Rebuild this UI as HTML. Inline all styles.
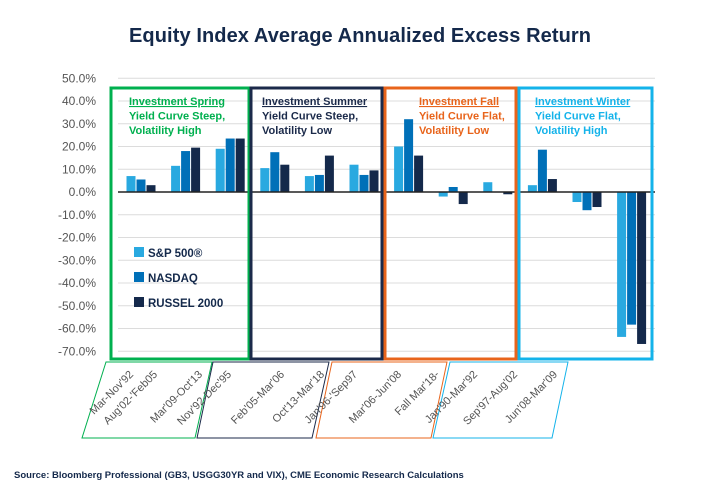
<!DOCTYPE html>
<html><head><meta charset="utf-8"><style>
html,body{margin:0;padding:0;background:#fff;}
svg{display:block;font-family:"Liberation Sans",sans-serif;}
</style></head><body>
<svg id="chart" width="720" height="500" viewBox="0 0 720 500">
<text x="360" y="42" text-anchor="middle" font-size="20" font-weight="600" fill="#14294b" textLength="462">Equity Index Average Annualized Excess Return</text>
<g id="grid"></g>
<g id="yaxis"></g>
<g id="bars"></g>
<g id="boxes"></g>
<g id="xlabels"></g>
<g font-size="11.5" font-weight="bold" fill="#14294b">
<rect x="134" y="247" width="10" height="10" fill="#29a9e0"/>
<text x="148" y="257">S&amp;P 500®</text>
<rect x="134" y="272" width="10" height="10" fill="#0070b8"/>
<text x="148" y="282">NASDAQ</text>
<rect x="134" y="297" width="10" height="10" fill="#14294b"/>
<text x="148" y="307">RUSSEL 2000</text>
</g>
<text x="14" y="478" font-size="9.5" font-weight="bold" fill="#14294b">Source: Bloomberg Professional (GB3, USGG30YR and VIX), CME Economic Research Calculations</text>
</svg>
<script>
const categories = ["Mar-Nov'92","Aug'02-'Feb05","Mar'09-Oct'13","Nov'92-Dec'95","Feb'05-Mar'06","Oct'13-Mar'18","Jan'96-'Sep97","Mar'06-Jun'08","Fall Mar'18-","Jan'90-Mar'92","Sep'97-Aug'02","Jun'08-Mar'09"];
const sp500 = [7, 11.5, 19, 10.5, 7, 12, 20, -2, 4.3, 3, -4.4, -63.7];
const nasdaq = [5.5, 18, 23.5, 17.5, 7.5, 7.5, 32, 2.2, 0, 18.6, -8, -58.3];
const russell = [3, 19.5, 23.5, 12, 16, 9.5, 16, -5.3, -1, 5.7, -6.6, -66.8];
const yTicks = [50,40,30,20,10,0,-10,-20,-30,-40,-50,-60,-70];
const seriesList = [sp500, nasdaq, russell];
const seriesColors = ["#29a9e0","#0070b8","#14294b"];
const seriesNames = ["sp500","nasdaq","russell"];
const ns = "http://www.w3.org/2000/svg";
function y(v){ return 192 - v*2.275; }
function xc(i){ return 141 + i*44.6; }
function mk(tag, attrs, parent){ const e=document.createElementNS(ns,tag); for(const k in attrs) e.setAttribute(k,attrs[k]); parent.appendChild(e); return e; }
const grid=document.getElementById('grid'), yax=document.getElementById('yaxis');
yTicks.forEach(t=>{
  const l=mk('line',{x1:118,x2:655,y1:y(t),y2:y(t),stroke:'#dcdcdc','stroke-width':1},grid);
  
  
  const tx=mk('text',{x:96,y:y(t)+4,'text-anchor':'end','font-size':12,fill:'#555'},yax);
  tx.textContent=t.toFixed(1)+'%';
  
  
});
const bars=document.getElementById('bars');
categories.forEach((c,i)=>{
  seriesList.forEach((s,k)=>{
    const v=s[i]; const x=xc(i)-14.5+k*10;
    const r=mk('rect',{x:x,y:Math.min(y(v),y(0)),width:9,height:Math.abs(y(v)-y(0)),fill:seriesColors[k]},bars);
    
    
  });
});
const zl=mk('line',{x1:118,x2:655,y1:y(0),y2:y(0),stroke:'#222','stroke-width':1.5},bars);


const boxes=document.getElementById('boxes');
const boxDefs=[
 {x:111,w:138,c:'#00b04f',t:['Investment Spring','Yield Curve Steep,','Volatility High'],n:'spring'},
 {x:251,w:131,c:'#1b2a4a',t:['Investment Summer','Yield Curve Steep,','Volatility Low'],n:'summer'},
 {x:385,w:131,c:'#e8641b',t:['Investment Fall','Yield Curve Flat,','Volatility Low'],n:'fall'},
 {x:519,w:133,c:'#14b3ea',t:['Investment Winter','Yield Curve Flat,','Volatility High'],n:'winter'}];
const boxTextX=[129,262,419,535];
const para=[[106,212,195,82],[213,329,312,197],[332,447,431,316],[450,568,552,433]];
boxDefs.forEach((b,i)=>{
  const r=mk('rect',{x:b.x,y:88,width:b.w,height:271,fill:'none',stroke:b.c,'stroke-width':3},boxes);
  
  
  b.t.forEach((s,j)=>{
    const t=mk('text',{x:boxTextX[i],y:105+j*14.5,'font-size':11,'font-weight':'bold',fill:b.c},boxes);
    if(j==0) t.setAttribute('text-decoration','underline');
    t.textContent=s;
    
    
  });
  const p=para[i];
  const pg=mk('polygon',{points:`${p[0]},362 ${p[1]},362 ${p[2]},438 ${p[3]},438`,fill:'none',stroke:b.c,'stroke-width':1},boxes);
  
  
});
const labelEndX=[134,158,203,232,285,325,358,402,440,478,518,558];
const xl=document.getElementById('xlabels');
categories.forEach((c,i)=>{
  const ex=labelEndX[i], ey=375;
  const t=mk('text',{x:ex,y:ey,'text-anchor':'end','font-size':11,fill:'#555',transform:`rotate(-45 ${ex} ${ey})`},xl);
  t.textContent=c;
  
  
});
</script>
</body></html>
